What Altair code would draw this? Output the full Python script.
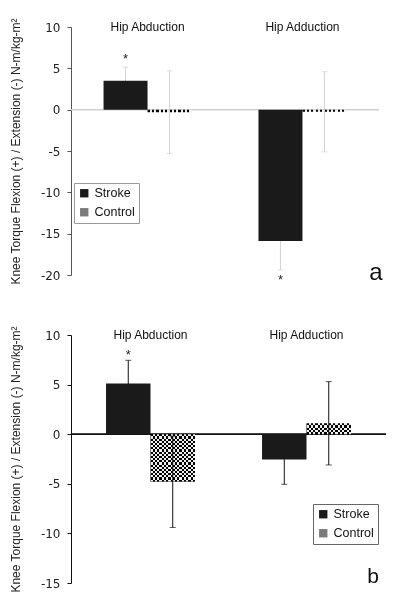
import altair as alt
import pandas as pd

groups = ["Hip Abduction", "Hip Adduction"]
series = ["Stroke", "Control"]
bar_group = ["Hip Abduction", "Hip Abduction", "Hip Adduction", "Hip Adduction"]
bar_series = ["Stroke", "Control", "Stroke", "Control"]

# panel a
a_mean = [3.5, -0.3, -15.9, -0.25]
a_sd = [1.65, 5.0, 3.5, 4.85]
a_star = [6.5, None, -20.3, None]

# panel b
b_mean = [5.1, -4.8, -2.55, 1.1]
b_sd = [2.35, 4.6, 2.5, 4.2]
b_star = [8.3, None, None, None]

y_title = "Knee Torque Flexion (+) / Extension (-) N-m/kg-m\u00b2"
TICK_FONT = "DejaVu Sans"
TEXT_FONT = "Liberation Sans"


def stripes(n, direction):
    stops = []
    for i in range(n):
        c = "#111111" if i % 2 == 0 else "#ffffff"
        stops.append(alt.GradientStop(offset=i / n, color=c))
        stops.append(alt.GradientStop(offset=(i + 1) / n, color=c))
    if direction == "cols":
        return alt.LinearGradient(gradient="linear", stops=stops, x1=0, x2=1, y1=0, y2=0)
    return alt.LinearGradient(gradient="linear", stops=stops, x1=0, x2=0, y1=0, y2=1)


def make_panel(mean, sd, star, domain, W, H, pi, po, axis_color, err_color,
               zero_color, letter, letter_x, letter_dy, letter_size, leg_x, leg_y, leg_stroke):
    df = pd.DataFrame({
        "group": bar_group, "series": bar_series, "mean": mean, "sd": sd, "star": star,
    })
    df["lo"] = df["mean"] - df["sd"]
    df["hi"] = df["mean"] + df["sd"]

    axis = alt.Axis(values=list(range(domain[0], domain[1] + 1, 5)), tickSize=4,
                    labelPadding=7, domainColor=axis_color, tickColor=axis_color,
                    grid=False, labelFont=TICK_FONT, labelFontSize=12, labelColor="#222",
                    labelExpr="'' + datum.value",
                    titleFont=TEXT_FONT, titleFontSize=12, titleFontWeight="normal",
                    titlePadding=18, titleColor="#222")
    yscale = alt.Scale(domain=domain, nice=False, zero=False)

    def Y(field):
        return alt.Y(field, scale=yscale, axis=axis, title=y_title)

    X = alt.X("group:N", sort=groups, axis=None,
              scale=alt.Scale(domain=groups, paddingInner=pi, paddingOuter=po))
    XO = alt.XOffset("series:N", sort=series,
                     scale=alt.Scale(domain=series, paddingInner=0, paddingOuter=0))

    base = alt.Chart(df)
    layers = []
    layers.append(base.mark_rule(color=zero_color, strokeWidth=1)
                  .encode(y=Y("zero:Q")).transform_calculate(zero="0"))

    span = domain[1] - domain[0]
    for g in groups:
        row = df[(df["group"] == g) & (df["series"] == "Control")]
        h = abs(float(row["mean"].iloc[0])) * H / span
        nrows = max(1, int(round(h / 2.2)))
        sub = base.transform_filter((alt.datum.group == g) & (alt.datum.series == "Control"))
        layers.append(sub.mark_bar(fill=stripes(20, "cols"), strokeWidth=0)
                      .encode(x=X, xOffset=XO, y=Y("mean:Q")))
        layers.append(sub.mark_bar(fill=stripes(nrows, "rows"), strokeWidth=0, blend="difference")
                      .encode(x=X, xOffset=XO, y=Y("mean:Q")))

    layers.append(base.mark_rule(color=err_color, strokeWidth=1)
                  .encode(x=X, xOffset=XO, y=Y("lo:Q"), y2="hi:Q"))
    layers.append(base.mark_tick(color=err_color, size=6, thickness=1)
                  .encode(x=X, xOffset=XO, y=Y("lo:Q")))
    layers.append(base.mark_tick(color=err_color, size=6, thickness=1)
                  .encode(x=X, xOffset=XO, y=Y("hi:Q")))

    layers.append(base.transform_filter(alt.datum.series == "Stroke")
                  .mark_bar(strokeWidth=0)
                  .encode(x=X, xOffset=XO, y=Y("mean:Q"),
                          color=alt.Color("series:N",
                                          scale=alt.Scale(domain=series, range=["#1a1a1a", "#7a7a7a"]),
                                          legend=alt.Legend(orient="none", legendX=leg_x, legendY=leg_y,
                                                            title=None, strokeColor=leg_stroke,
                                                            padding=4, symbolType="square",
                                                            symbolSize=70, symbolStrokeWidth=0,
                                                            labelFont=TEXT_FONT, labelFontSize=12.5,
                                                            labelColor="#111", rowPadding=6,
                                                            fillColor="white"))))

    layers.append(base.mark_text(text="*", font=TEXT_FONT, fontSize=13, baseline="middle", dy=3,
                                 color="#222")
                  .encode(x=X, xOffset=XO, y=Y("star:Q")))

    gl = pd.DataFrame({"group": groups, "top": [domain[1]] * 2})
    layers.append(alt.Chart(gl).mark_text(font=TEXT_FONT, fontSize=12, baseline="middle", color="#111")
                  .encode(x=X, y=Y("top:Q"), text="group:N"))

    lt = pd.DataFrame({"label": [letter], "bottom": [domain[0]]})
    layers.append(alt.Chart(lt).mark_text(font=TEXT_FONT, fontSize=letter_size, baseline="alphabetic",
                                          align="center", dy=letter_dy, color="#111")
                  .encode(x=alt.value(letter_x), y=Y("bottom:Q"), text="label:N"))

    return alt.layer(*layers).properties(width=W, height=H, view=alt.ViewBackground(stroke=None))


pa = make_panel(a_mean, a_sd, a_star, [-20, 10], 308, 248, 0.432, 0.21, "#555", "#d4d4d4",
                "#cfcfcf", "a", 305, 5, 24, 3, 156, "#999")
pb = make_panel(b_mean, b_sd, b_star, [-15, 10], 315, 248, 0.43, 0.2245, "#111", "#111",
                "#111", "b", 302, 0, 21, 242, 169, "#666")

chart = (alt.vconcat(pa, pb, spacing=60, bounds="flush")
         .resolve_scale(color="independent", x="independent", y="independent", xOffset="independent")
         .resolve_legend(color="independent")
         .properties(padding={"left": 1, "top": 9, "right": 0, "bottom": 0})
         .configure_view(stroke=None)
         .configure(background="white"))

chart.save("out.html", embed_options={"renderer": "svg", "actions": False})
